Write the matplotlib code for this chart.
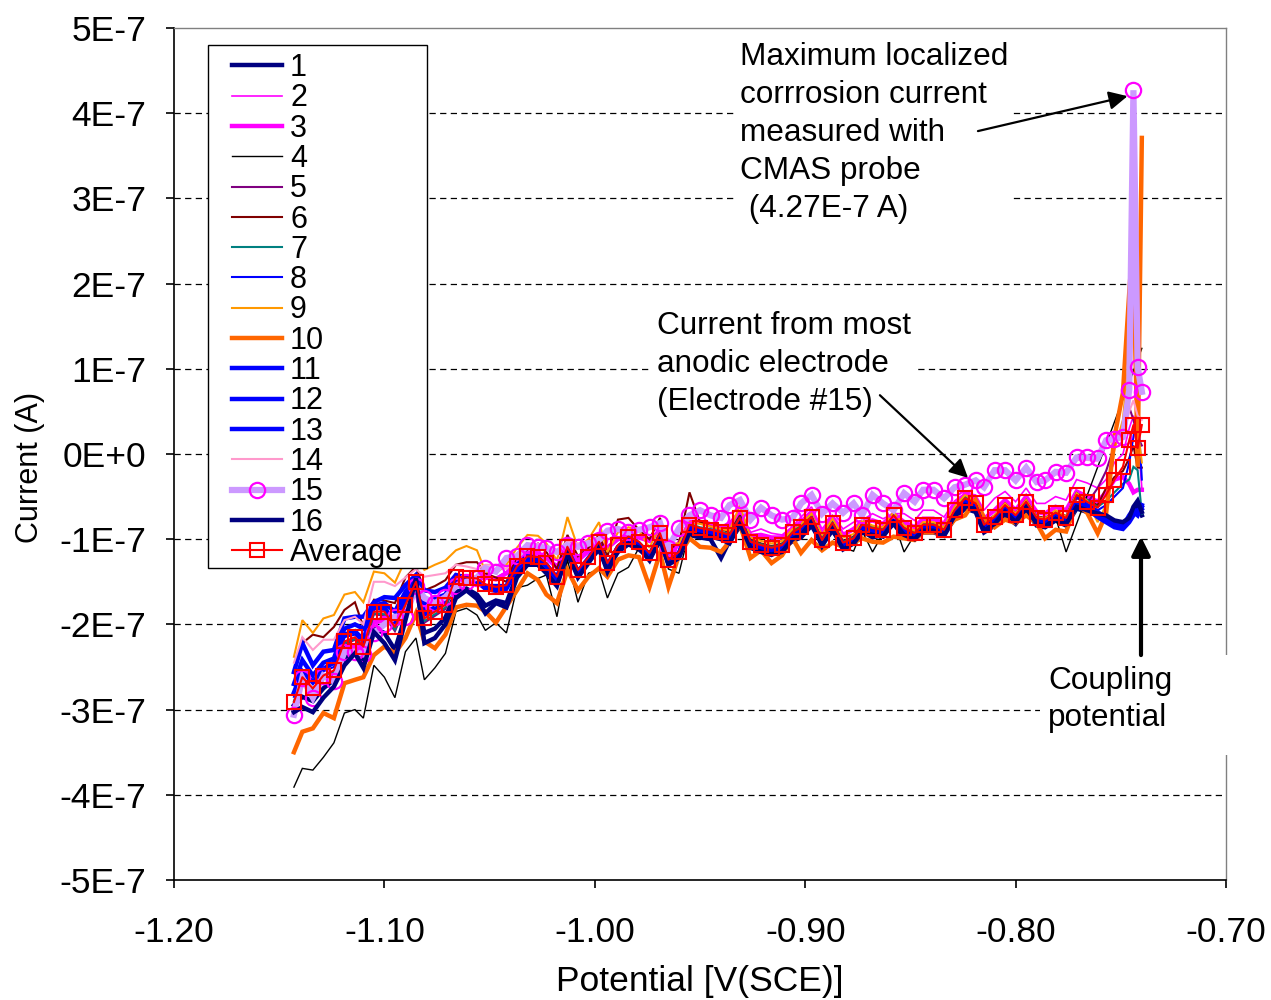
import numpy as np
import matplotlib
matplotlib.use('Agg')
import matplotlib.pyplot as plt
from matplotlib.patches import Rectangle
from matplotlib.ticker import FuncFormatter, FormatStrFormatter

plt.rcParams['font.family'] = ['Liberation Sans', 'DejaVu Sans']

nan = float('nan')

# potential, mV vs SCE
potential_mv = [
    -1143, -1139, -1134, -1129, -1124, -1119, -1114, -1110, -1105, -1100,
    -1095, -1090, -1085, -1081, -1076, -1071, -1066, -1061, -1056, -1052,
    -1047, -1042, -1037, -1032, -1027, -1023, -1018, -1013, -1008, -1003,
    -998, -994, -989, -984, -979, -974, -969, -965, -960, -955,
    -950, -945, -940, -936, -931, -926, -921, -916, -911, -906,
    -902, -897, -892, -887, -882, -877, -873, -868, -863, -858,
    -853, -848, -844, -839, -834, -829, -824, -819, -815, -810,
    -805, -800, -795, -790, -786, -781, -776, -771, -766, -761,
    -757, -753, -749, -746, -744, -742, -740]

# electrode currents, units of 1E-7 A
e01 = [
    -2.95, -2.85, -2.90, -2.75, -2.65, -2.40, -2.30, -2.45, -2.05, -2.10,
    -2.30, -1.90, -1.55, -2.10, -2.05, -1.92, -1.62, -1.58, -1.65, -1.78,
    -1.72, -1.75, -1.42, -1.28, -1.30, -1.38, -1.52, -1.18, -1.42, -1.26,
    -1.12, -1.35, -1.15, -1.06, -1.12, -1.22, -1.02, -1.28, -1.20, -0.95,
    -0.98, -1.00, -1.22, -1.02, -0.85, -1.08, -1.12, -1.15, -1.12, -1.02,
    -0.98, -0.84, -1.05, -0.90, -1.08, -1.02, -0.90, -0.98, -0.95, -0.82,
    -0.97, -0.98, -0.92, -0.92, -0.96, -0.75, -0.64, -0.68, -0.92, -0.84,
    -0.72, -0.82, -0.66, -0.84, -0.86, -0.78, -0.84, -0.64, -0.68, -0.72,
    -0.74, -0.80, -0.82, -0.78, -0.66, -0.60, -0.72]
e02 = [
    -2.95, -2.60, -2.80, -2.58, -2.60, -2.25, -2.25, -2.30, -1.95, -1.92,
    -1.95, -1.85, -1.52, -1.80, -1.80, -1.72, -1.48, -1.48, -1.46, -1.42,
    -1.45, -1.38, -1.26, -1.14, -1.15, -1.20, -1.30, -1.08, -1.22, -1.12,
    -1.02, -1.08, -0.98, -0.95, -0.96, -1.00, -0.88, -1.18, -1.02, -0.78,
    -0.78, -0.82, -0.85, -0.80, -0.66, -0.92, -0.88, -0.93, -0.95, -0.85,
    -0.74, -0.62, -0.88, -0.72, -0.88, -0.80, -0.78, -0.70, -0.76, -0.70,
    -0.70, -0.78, -0.66, -0.66, -0.74, -0.55, -0.46, -0.48, -0.66, -0.52,
    -0.44, -0.56, -0.40, -0.58, -0.58, -0.50, -0.54, -0.30, -0.34, -0.40,
    -0.30, -0.10, 0.00, 0.30, 0.45, 0.25, -0.40]
e03 = [
    -2.98, -2.65, -2.82, -2.62, -2.62, -2.28, -2.28, -2.32, -1.98, -1.95,
    -1.96, -1.88, -1.55, -1.82, -1.82, -1.74, -1.50, -1.50, -1.47, -1.45,
    -1.47, -1.40, -1.28, -1.16, -1.17, -1.22, -1.33, -1.10, -1.25, -1.14,
    -1.04, -1.10, -1.00, -0.96, -0.98, -1.02, -0.90, -1.20, -1.05, -0.80,
    -0.80, -0.84, -0.88, -0.84, -0.70, -0.96, -0.95, -0.98, -0.98, -0.88,
    -0.80, -0.68, -0.94, -0.76, -0.95, -0.88, -0.80, -0.78, -0.82, -0.70,
    -0.80, -0.86, -0.76, -0.76, -0.82, -0.60, -0.48, -0.53, -0.76, -0.66,
    -0.54, -0.66, -0.50, -0.68, -0.70, -0.62, -0.66, -0.44, -0.50, -0.56,
    -0.45, -0.30, -0.27, -0.35, -0.45, -0.42, -0.42]
e04 = [
    -3.91, -3.69, -3.71, -3.56, -3.39, -3.04, -3.00, -3.10, -2.48, -2.62,
    -2.86, -2.32, -2.16, -2.65, -2.51, -2.34, -1.85, -1.81, -1.89, -2.07,
    -1.98, -2.10, -1.57, -1.54, -1.46, -1.42, -1.91, -1.24, -1.74, -1.40,
    -1.36, -1.69, -1.40, -1.33, -1.10, -1.22, -1.00, -1.35, -1.40, -0.90,
    -0.95, -0.96, -1.00, -1.02, -0.80, -1.12, -1.12, -1.16, -1.10, -0.98,
    -0.92, -0.80, -1.05, -0.88, -1.10, -1.14, -0.90, -1.15, -0.93, -0.78,
    -1.15, -0.95, -0.88, -0.86, -0.93, -0.68, -0.55, -0.62, -0.88, -0.80,
    -0.65, -0.76, -0.60, -0.80, -0.82, -0.74, -1.15, nan, nan, nan,
    nan, nan, nan, nan, nan, nan, 1.24]
e05 = [
    -2.92, -2.66, -2.78, -2.64, -2.58, -2.24, -2.18, -2.30, -1.88, -1.90,
    -2.08, -1.80, -1.52, -1.98, -1.90, -1.82, -1.48, -1.50, -1.50, -1.60,
    -1.62, -1.60, -1.36, -1.24, -1.25, -1.32, -1.50, -1.12, -1.42, -1.26,
    -1.06, -1.32, -1.10, -1.00, -1.06, -1.20, -0.96, -1.30, -1.20, -0.86,
    -0.90, -0.92, -0.96, -0.98, -0.78, -1.10, -1.16, -1.20, -1.12, -0.96,
    -0.90, -0.78, -1.08, -0.86, -1.10, -1.05, -0.86, -0.92, -0.95, -0.76,
    -0.92, -1.00, -0.88, -0.88, -0.94, -0.70, -0.56, -0.62, -0.90, -0.80,
    -0.64, -0.76, -0.60, -0.80, -0.84, -0.74, -0.78, -0.52, -0.58, -0.40,
    -0.20, 0.10, 0.30, 0.55, 0.40, 0.20, 0.10]
e06 = [
    -2.55, -2.22, -2.12, -2.15, -2.03, -1.83, -1.74, -2.03, -1.71, -1.72,
    -1.75, -1.45, -1.32, -1.60, -1.55, -1.48, -1.30, -1.27, -1.27, -1.40,
    -1.45, -1.50, -1.20, -1.12, -1.05, -1.15, -1.35, -0.95, -1.20, -1.10,
    -0.95, -1.20, -0.77, -0.75, -0.89, -1.00, -0.75, -1.12, -1.05, -0.45,
    -0.80, -0.85, -0.88, -0.92, -0.72, -1.00, -1.05, -1.08, -1.05, -0.90,
    -0.84, -0.72, -0.99, -0.79, -1.02, -0.97, -0.81, -0.85, -0.87, -0.70,
    -0.85, -0.91, -0.81, -0.81, -0.87, -0.64, -0.50, -0.56, -0.81, -0.72,
    -0.58, -0.70, -0.54, -0.73, -0.75, -0.67, -0.73, -0.46, -0.54, -0.60,
    -0.40, -0.27, -0.20, -0.05, 0.10, -0.16, -0.16]
e07 = [
    -2.90, -2.64, -2.76, -2.62, -2.56, -2.22, -2.17, -2.28, -1.87, -1.88,
    -2.06, -1.79, -1.52, -1.96, -1.88, -1.80, -1.46, -1.47, -1.48, -1.56,
    -1.58, -1.56, -1.33, -1.21, -1.22, -1.30, -1.46, -1.10, -1.37, -1.22,
    -1.04, -1.29, -1.07, -0.97, -1.03, -1.16, -0.93, -1.24, -1.14, -0.82,
    -0.86, -0.88, -0.91, -0.94, -0.74, -1.02, -1.06, -1.09, -1.06, -0.91,
    -0.85, -0.73, -1.00, -0.80, -1.03, -0.98, -0.82, -0.86, -0.88, -0.70,
    -0.86, -0.92, -0.82, -0.82, -0.88, -0.64, -0.50, -0.56, -0.82, -0.73,
    -0.59, -0.71, -0.55, -0.74, -0.76, -0.68, -0.74, -0.46, -0.54, -0.62,
    -0.55, -0.45, -0.35, -0.30, -0.15, -0.19, -0.70]
e08 = [
    -2.85, -2.58, -2.70, -2.55, -2.50, -2.15, -2.12, -2.22, -1.82, -1.83,
    -2.00, -1.74, -1.50, -1.90, -1.82, -1.75, -1.44, -1.45, -1.47, -1.54,
    -1.57, -1.55, -1.33, -1.21, -1.22, -1.29, -1.45, -1.10, -1.37, -1.22,
    -1.04, -1.29, -1.08, -0.98, -1.04, -1.17, -0.94, -1.25, -1.16, -0.84,
    -0.88, -0.90, -0.93, -0.96, -0.76, -1.04, -1.08, -1.11, -1.08, -0.93,
    -0.87, -0.75, -1.02, -0.82, -1.05, -1.00, -0.84, -0.88, -0.90, -0.73,
    -0.88, -0.94, -0.84, -0.84, -0.90, -0.67, -0.53, -0.59, -0.84, -0.75,
    -0.61, -0.73, -0.57, -0.76, -0.78, -0.70, -0.76, -0.50, -0.58, -0.66,
    -0.60, -0.50, -0.40, -0.10, 0.20, 0.55, -0.30]
e09 = [
    -2.38, -1.95, -2.10, -1.93, -1.89, -1.65, -1.62, -1.74, -1.38, -1.40,
    -1.51, -1.24, -1.21, -1.36, -1.30, -1.25, -1.13, -1.08, -1.13, -1.38,
    -1.40, -1.30, -1.10, -0.95, -0.96, -1.05, -1.25, -0.74, -1.10, -1.00,
    -0.80, -1.15, -0.92, -0.86, -0.90, -1.10, -0.84, -1.05, -1.05, -0.80,
    -0.82, -0.85, -0.88, -0.90, -0.60, -0.98, -1.02, -1.05, -1.02, -0.88,
    -0.82, -0.70, -0.95, -0.76, -0.98, -0.94, -0.78, -0.84, -0.86, -0.68,
    -0.84, -0.90, -0.80, -0.80, -0.86, -0.62, -0.48, -0.56, -0.82, -0.72,
    -0.58, -0.70, -0.54, -0.74, -0.76, -0.66, -0.74, -0.46, -0.55, -0.80,
    -0.60, 0.05, 0.40, 1.20, 1.42, 0.30, -0.10]
e10 = [
    -3.50, -3.26, -3.22, -3.04, -3.10, -2.69, -2.65, -2.62, -2.36, -2.26,
    -2.34, -2.16, -1.87, -2.20, -2.28, -2.12, -1.80, -1.77, -1.78, -1.85,
    -1.98, -1.79, -1.60, -1.40, -1.48, -1.65, -1.75, -1.36, -1.60, -1.44,
    -1.34, -1.44, -1.24, -1.19, -1.21, -1.56, -1.16, -1.56, -1.19, -0.99,
    -1.09, -1.10, -1.15, -1.03, -0.83, -1.22, -1.13, -1.28, -1.19, -0.99,
    -1.16, -1.01, -1.13, -1.04, -1.09, -1.04, -0.99, -1.03, -1.04, -0.97,
    -0.99, -1.01, -0.92, -0.92, -0.92, -0.77, -0.72, -0.54, -0.75, -0.86,
    -0.77, -0.81, -0.72, -0.81, -0.99, -0.89, -0.91, -0.58, -0.69, -0.93,
    -0.70, 0.20, 0.72, 1.89, 2.60, -0.15, 3.71]
e11 = [
    -2.56, -2.22, -2.48, -2.32, -2.30, -1.93, -1.91, -1.91, -1.74, -1.68,
    -1.69, -1.54, -1.42, -1.60, -1.62, -1.57, -1.42, -1.45, -1.48, -1.55,
    -1.55, -1.55, -1.30, -1.20, -1.22, -1.30, -1.45, -1.12, -1.38, -1.22,
    -1.06, -1.30, -1.10, -1.00, -1.06, -1.18, -0.96, -1.25, -1.16, -0.86,
    -0.90, -0.92, -0.95, -0.98, -0.78, -1.05, -1.10, -1.12, -1.10, -0.95,
    -0.88, -0.77, -1.04, -0.84, -1.06, -1.02, -0.85, -0.90, -0.92, -0.75,
    -0.90, -0.95, -0.86, -0.86, -0.92, -0.70, -0.56, -0.62, -0.86, -0.77,
    -0.64, -0.75, -0.60, -0.78, -0.80, -0.72, -0.78, -0.58, -0.60, -0.68,
    -0.76, -0.82, -0.85, -0.72, -0.65, -0.70, -0.62]
e12 = [
    -2.80, -2.55, -2.68, -2.52, -2.45, -2.12, -2.08, -2.18, -1.80, -1.80,
    -1.98, -1.70, -1.48, -1.88, -1.80, -1.72, -1.45, -1.47, -1.50, -1.58,
    -1.60, -1.58, -1.36, -1.24, -1.25, -1.32, -1.48, -1.14, -1.40, -1.25,
    -1.08, -1.32, -1.10, -1.02, -1.08, -1.20, -0.98, -1.28, -1.18, -0.88,
    -0.92, -0.94, -0.97, -1.00, -0.80, -1.08, -1.12, -1.15, -1.12, -0.97,
    -0.91, -0.78, -1.06, -0.86, -1.09, -1.04, -0.88, -0.92, -0.94, -0.77,
    -0.92, -0.98, -0.88, -0.88, -0.94, -0.71, -0.58, -0.63, -0.88, -0.79,
    -0.66, -0.77, -0.61, -0.80, -0.82, -0.74, -0.80, -0.60, -0.64, -0.74,
    -0.80, -0.86, -0.88, -0.80, -0.72, -0.66, -0.64]
e13 = [
    -2.70, -2.42, -2.60, -2.45, -2.40, -2.05, -2.00, -2.05, -1.78, -1.75,
    -1.85, -1.62, -1.45, -1.75, -1.70, -1.65, -1.43, -1.46, -1.48, -1.56,
    -1.58, -1.56, -1.33, -1.22, -1.23, -1.30, -1.46, -1.12, -1.38, -1.23,
    -1.06, -1.31, -1.09, -1.01, -1.07, -1.19, -0.97, -1.27, -1.17, -0.87,
    -0.91, -0.93, -0.96, -0.99, -0.79, -1.07, -1.11, -1.14, -1.11, -0.96,
    -0.90, -0.77, -1.05, -0.85, -1.08, -1.03, -0.87, -0.91, -0.93, -0.76,
    -0.91, -0.97, -0.87, -0.87, -0.93, -0.70, -0.57, -0.62, -0.87, -0.78,
    -0.65, -0.76, -0.60, -0.79, -0.81, -0.73, -0.79, -0.59, -0.63, -0.72,
    -0.78, -0.84, -0.86, -0.74, -0.68, -0.72, -0.60]
e14 = [
    -2.45, -2.15, -2.30, -2.18, -2.18, -1.95, -1.91, -2.00, -1.50, -1.50,
    -1.55, -1.45, -1.35, -1.44, -1.42, -1.40, -1.30, -1.32, -1.35, -1.30,
    -1.30, -1.35, -1.18, -1.10, -1.05, -1.10, -1.15, -1.02, -1.05, -1.02,
    -0.98, -0.92, -0.90, -0.92, -0.90, -0.88, -0.84, -1.05, -0.88, -0.74,
    -0.68, -0.74, -0.77, -0.62, -0.57, -0.78, -0.66, -0.74, -0.78, -0.76,
    -0.60, -0.50, -0.72, -0.60, -0.71, -0.60, -0.73, -0.50, -0.60, -0.67,
    -0.48, -0.58, -0.45, -0.45, -0.54, -0.41, -0.38, -0.33, -0.41, -0.22,
    -0.22, -0.33, -0.19, -0.35, -0.33, -0.24, -0.24, -0.07, -0.07, -0.08,
    0.12, 0.15, 0.18, 0.50, 0.63, 0.45, 0.40]
e15 = [
    -3.06, -2.63, -2.86, -2.60, -2.67, -2.32, -2.32, -2.35, -2.10, -2.00,
    -1.91, -1.91, -1.55, -1.69, -1.75, -1.68, -1.55, -1.50, -1.45, -1.34,
    -1.38, -1.22, -1.20, -1.07, -1.09, -1.10, -1.15, -1.07, -1.09, -1.05,
    -1.01, -0.90, -0.88, -0.92, -0.89, -0.86, -0.81, -1.10, -0.87, -0.72,
    -0.66, -0.72, -0.75, -0.60, -0.54, -0.77, -0.63, -0.72, -0.77, -0.75,
    -0.58, -0.48, -0.70, -0.58, -0.69, -0.58, -0.72, -0.48, -0.58, -0.66,
    -0.46, -0.56, -0.42, -0.42, -0.52, -0.39, -0.36, -0.31, -0.39, -0.19,
    -0.19, -0.31, -0.16, -0.33, -0.31, -0.21, -0.22, -0.04, -0.04, -0.05,
    0.16, 0.18, 0.20, 0.75, 4.27, 1.02, 0.73]
e16 = [
    -3.03, -2.97, -3.03, -2.86, -2.73, -2.48, -2.34, -2.51, -2.09, -2.22,
    -2.42, -1.95, -1.46, -2.22, -2.16, -2.00, -1.69, -1.60, -1.70, -1.87,
    -1.75, -1.80, -1.45, -1.30, -1.30, -1.40, -1.55, -1.15, -1.45, -1.28,
    -1.10, -1.38, -1.12, -1.05, -1.10, -1.25, -1.00, -1.30, -1.22, -0.92,
    -0.95, -0.97, -1.00, -1.05, -0.82, -1.10, -1.15, -1.18, -1.15, -1.00,
    -0.95, -0.80, -1.08, -0.88, -1.12, -1.05, -0.92, -0.95, -0.97, -0.80,
    -0.95, -1.00, -0.90, -0.90, -0.95, -0.72, -0.60, -0.65, -0.90, -0.82,
    -0.68, -0.80, -0.63, -0.82, -0.85, -0.76, -0.82, -0.62, -0.66, -0.70,
    -0.72, -0.78, -0.80, -0.75, -0.62, -0.55, -0.68]
average = [
    -2.91, -2.62, -2.75, -2.60, -2.54, -2.20, -2.15, -2.26, -1.85, -1.85,
    -2.03, -1.77, -1.50, -1.93, -1.85, -1.77, -1.44, -1.45, -1.46, -1.53,
    -1.56, -1.54, -1.32, -1.20, -1.21, -1.28, -1.44, -1.09, -1.36, -1.21,
    -1.03, -1.28, -1.07, -0.97, -1.03, -1.16, -0.93, -1.24, -1.15, -0.83,
    -0.87, -0.89, -0.92, -0.95, -0.75, -1.03, -1.07, -1.10, -1.07, -0.92,
    -0.86, -0.74, -1.01, -0.81, -1.04, -0.99, -0.83, -0.87, -0.89, -0.72,
    -0.87, -0.93, -0.83, -0.83, -0.89, -0.66, -0.52, -0.58, -0.83, -0.74,
    -0.60, -0.72, -0.56, -0.75, -0.77, -0.69, -0.75, -0.48, -0.56, -0.63,
    -0.48, -0.30, -0.15, 0.16, 0.34, 0.07, 0.34]

electrodes = [e01, e02, e03, e04, e05, e06, e07, e08,
              e09, e10, e11, e12, e13, e14, e15, e16]
labels = [str(i) for i in range(1, 17)]
colors = ['#000080', '#FF00FF', '#FF00FF', '#000000', '#800080', '#800000',
          '#008080', '#0000FF', '#FF9900', '#FF6600', '#0000FF', '#0000FF',
          '#0000FF', '#FF99CC', '#CC99FF', '#000080']
widths = [3.2, 1.2, 3.2, 1.0, 1.5, 1.5, 1.5, 1.5, 1.5, 3.2, 3.2, 3.2,
          3.2, 1.5, 4.5, 3.2]

x = np.array(potential_mv) / 1000.0

fig = plt.figure(figsize=(12.71, 10.0), dpi=100)
ax = fig.add_axes([174 / 1271, 120 / 1000, 1052 / 1271, 852 / 1000])

for i, vals in enumerate(electrodes):
    y = np.array(vals, dtype=float) * 1e-7
    ok = np.isfinite(y)
    kw = {}
    if labels[i] == '15':
        kw = dict(marker='o', markersize=11, markerfacecolor='none',
                  markeredgecolor='#FF00FF', markeredgewidth=1.6)
    ax.plot(x[ok], y[ok], color=colors[i], lw=widths[i], label=labels[i],
            solid_joinstyle='miter', **kw)

ax.plot(x, np.array(average) * 1e-7, color='#FF0000', lw=1.5, marker='s',
        markersize=10, markerfacecolor='none', markeredgecolor='#FF0000',
        markeredgewidth=1.5, label='Average')

ax.set_xlim(-1.20, -0.70)
ax.set_ylim(-5e-7, 5e-7)
ax.set_xticks([-1.2, -1.1, -1.0, -0.9, -0.8, -0.7])
ax.xaxis.set_major_formatter(FormatStrFormatter('%.2f'))
ax.set_yticks(np.arange(-5, 6) * 1e-7)


def fmt_current(v, pos):
    n = int(round(v / 1e-7))
    if n == 0:
        return '0E+0'
    return '%dE-7' % n


ax.yaxis.set_major_formatter(FuncFormatter(fmt_current))
ax.tick_params(direction='out', length=6, width=1.2, labelsize=25.5)
ax.tick_params(axis='x', pad=20)
ax.tick_params(axis='y', pad=14)

for yv in np.arange(-4, 5) * 1e-7:
    ax.axhline(yv, color='black', lw=0.9, ls=(0, (5, 3.5)), zorder=0.5)

for side in ['left', 'bottom']:
    ax.spines[side].set_color('black')
    ax.spines[side].set_linewidth(1.2)
for side in ['top', 'right']:
    ax.spines[side].set_color('#808080')
    ax.spines[side].set_linewidth(1.0)

fig.text(30 / 1271, 1 - 467 / 1000, 'Current (A)', rotation=90,
         ha='center', va='center', fontsize=22)
fig.text(700 / 1271, 1 - 982 / 1000, 'Potential [V(SCE)]',
         ha='center', va='center', fontsize=25.5)

# legend frame drawn separately so its padding can match the original
ax.add_patch(Rectangle((208 / 1271, 1 - 568 / 1000), (427 - 208) / 1271,
                       (568 - 45) / 1000, transform=fig.transFigure,
                       facecolor='white', edgecolor='black', lw=1.0,
                       clip_on=False, zorder=19))
leg = ax.legend(loc='upper left', bbox_to_anchor=(232 / 1271, 1 - 53 / 1000),
                bbox_transform=fig.transFigure, fontsize=22, frameon=False,
                borderaxespad=0, borderpad=0, labelspacing=0.01,
                handlelength=1.64, handletextpad=0.26)
leg.set_zorder(20)

box = dict(facecolor='white', edgecolor='none', pad=3)
ax.text(-0.931, 4.83e-7,
        'Maximum localized\ncorrrosion current\nmeasured with\nCMAS probe\n (4.27E-7 A)',
        ha='left', va='top', fontsize=22.7, linespacing=1.345, bbox=box,
        zorder=10)
ax.text(-0.9704, 1.68e-7, 'Current from most\nanodic electrode\n(Electrode #15)',
        ha='left', va='top', fontsize=22.7, linespacing=1.345,
        bbox=dict(facecolor='white', edgecolor='none', pad=5), zorder=10)
ax.add_patch(Rectangle((-0.7885, -3.53e-7), 0.094, 1.17e-7, facecolor='white',
                       edgecolor='none', clip_on=False, zorder=9))
ax.text(-0.7846, -2.49e-7, 'Coupling\npotential', ha='left', va='top',
        fontsize=22.7, linespacing=1.3, zorder=10)

arrow = dict(arrowstyle='-|>', color='black', lw=1.6, mutation_scale=28,
             shrinkA=0, shrinkB=0)
ax.annotate('', xy=(-0.7468, 4.20e-7), xytext=(-0.8179, 3.79e-7),
            arrowprops=arrow, zorder=11)
ax.annotate('', xy=(-0.8226, -0.28e-7), xytext=(-0.8645, 0.69e-7),
            arrowprops=arrow, zorder=11)
ax.annotate('', xy=(-0.7404, -0.97e-7), xytext=(-0.7404, -2.36e-7),
            arrowprops=dict(arrowstyle='-|>', color='black', lw=3,
                            mutation_scale=28, shrinkA=0, shrinkB=0),
            zorder=11)

fig.savefig('out.png', dpi=100)
